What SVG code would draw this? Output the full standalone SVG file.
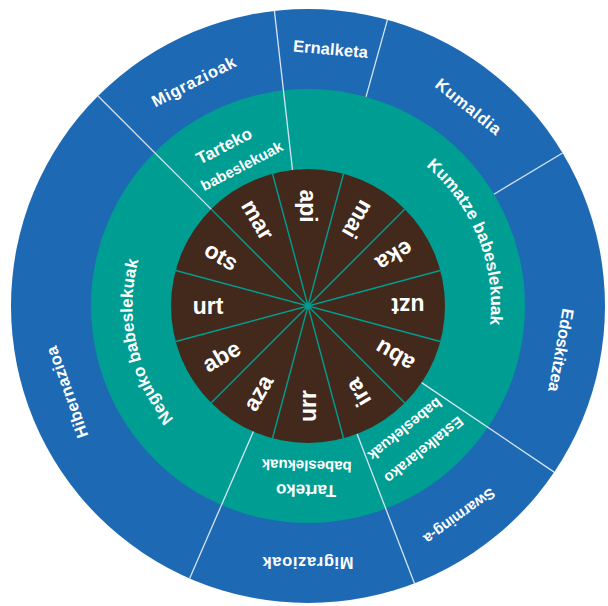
<svg xmlns="http://www.w3.org/2000/svg" width="608" height="606" viewBox="0 0 608 606">
<style>
.t{font-family:"Liberation Sans",Arial,sans-serif;font-weight:bold;fill:#ffffff;text-anchor:middle}
.m{font-size:23px}
.b{font-size:16.5px}
.g{font-size:17px}
.s{font-size:15px}
.div{stroke:#d6e4f2;stroke-width:1.3;fill:none}
.mdiv{stroke:#009d92;stroke-width:1.4;fill:none}
</style>
<defs>
<path id="arcKumatze" d="M333.5,124.8 A183,183 0 0 1 452.2,418.7"/>
<path id="arcNeguko" d="M255.2,473.4 A175.5,175.5 0 0 1 189.4,176.6"/>
</defs>
<rect width="608" height="606" fill="#ffffff"/>
<g id="ring-outer"><circle cx="308" cy="306" r="297" fill="#1e69b4"/></g>
<g id="ring-middle"><circle cx="308" cy="306" r="217" fill="#009d92"/></g>
<g id="ring-inner"><circle cx="308" cy="306" r="137" fill="#42291b"/></g>

<g id="connectors">
<line class="mdiv" x1="440.3" y1="341.5" x2="175.7" y2="270.5"/>
<line class="mdiv" x1="404.9" y1="402.9" x2="211.1" y2="209.1"/>
<line class="mdiv" x1="343.5" y1="438.3" x2="272.5" y2="173.7"/>
<line class="mdiv" x1="272.5" y1="438.3" x2="343.5" y2="173.7"/>
<line class="mdiv" x1="211.1" y1="402.9" x2="404.9" y2="209.1"/>
<line class="mdiv" x1="175.7" y1="341.5" x2="440.3" y2="270.5"/>
<line class="div" x1="211.1" y1="209.1" x2="98" y2="96"/>
<line class="div" x1="292.5" y1="169.9" x2="274.4" y2="10.9"/>
<line class="div" x1="366.0" y1="96.9" x2="387.4" y2="19.8"/>
<line class="div" x1="494.0" y1="194.2" x2="562.6" y2="153.0"/>
<line class="div" x1="421.6" y1="382.6" x2="554.2" y2="472.1"/>
<line class="div" x1="357.1" y1="433.9" x2="414.4" y2="583.3"/>
<line class="div" x1="253.4" y1="431.6" x2="189.6" y2="578.4"/>
</g>
<circle id="center-dot" cx="308" cy="306" r="3" fill="#009d92"/>

<g id="months">
<g id="m-api"><text class="t m" dy="0.35em" transform="translate(308,206) rotate(90)">api</text></g>
<g id="m-mai"><text class="t m" dy="0.35em" transform="translate(358,219.4) rotate(120)">mai</text></g>
<g id="m-eka"><text class="t m" dy="0.35em" transform="translate(394.6,256) rotate(150)">eka</text></g>
<g id="m-uzt"><text class="t m" dy="0.35em" transform="translate(408,306) rotate(180)">uzt</text></g>
<g id="m-abu"><text class="t m" dy="0.35em" transform="translate(394.6,356) rotate(210)">abu</text></g>
<g id="m-ira"><text class="t m" dy="0.35em" transform="translate(358,392.6) rotate(240)">ira</text></g>
<g id="m-urr"><text class="t m" dy="0.35em" transform="translate(308,406) rotate(270)">urr</text></g>
<g id="m-aza"><text class="t m" dy="0.35em" transform="translate(258,392.6) rotate(300)">aza</text></g>
<g id="m-abe"><text class="t m" dy="0.35em" transform="translate(221.4,356) rotate(330)">abe</text></g>
<g id="m-urt"><text class="t m" dy="0.35em" transform="translate(208,306)">urt</text></g>
<g id="m-ots"><text class="t m" dy="0.35em" transform="translate(221.4,256) rotate(30)">ots</text></g>
<g id="m-mar"><text class="t m" dy="0.35em" transform="translate(258,219.4) rotate(60)">mar</text></g>
</g>

<g id="shelter-tarteko-top">
<text class="t g" dy="0.35em" transform="translate(224,145.7) rotate(-27.5)">Tarteko</text>
<text class="t s" dy="0.35em" transform="translate(241.8,165.9) rotate(-27.5)">babeslekuak</text>
</g>
<g id="shelter-kumatze"><text class="t g"><textPath href="#arcKumatze" startOffset="50%">Kumatze babeslekuak</textPath></text></g>
<g id="shelter-estalkelarako">
<text class="t s" dy="0.35em" transform="translate(424,450) rotate(141)">Estalkelarako</text>
<text class="t s" dy="0.35em" transform="translate(405,429.3) rotate(141)">babeslekuak</text>
</g>
<g id="shelter-tarteko-bottom">
<text class="t g" dy="0.35em" transform="translate(306,490.7) rotate(181)">Tarteko</text>
<text class="t s" dy="0.35em" transform="translate(306.7,465.7) rotate(181.5)">babeslekuak</text>
</g>
<g id="shelter-neguko"><text class="t g"><textPath href="#arcNeguko" startOffset="50%">Neguko babeslekuak</textPath></text></g>

<g id="phase-migrazioak-top"><text class="t b" dy="0.35em" textLength="92" transform="translate(193.6,81.5) rotate(-27)">Migrazioak</text></g>
<g id="phase-ernalketa"><text class="t b" dy="0.35em" textLength="75" transform="translate(330.5,49) rotate(5)">Ernalketa</text></g>
<g id="phase-kumaldia"><text class="t b" dy="0.35em" textLength="79" transform="translate(468.4,106.5) rotate(38.8)">Kumaldia</text></g>
<g id="phase-edoskitzea"><text class="t b" dy="0.35em" textLength="84" transform="translate(561.2,350.2) rotate(99.9)">Edoskitzea</text></g>
<g id="phase-swarming"><text class="t s" dy="0.35em" textLength="84" transform="translate(459.5,516.1) rotate(144.2)">Swarming-a</text></g>
<g id="phase-migrazioak-bottom"><text class="t b" dy="0.35em" textLength="91" transform="translate(308,563) rotate(180)">Migrazioak</text></g>
<g id="phase-hibernazioa"><text class="t b" dy="0.35em" textLength="96" transform="translate(67,392.3) rotate(250.3)">Hibernazioa</text></g>
</svg>
